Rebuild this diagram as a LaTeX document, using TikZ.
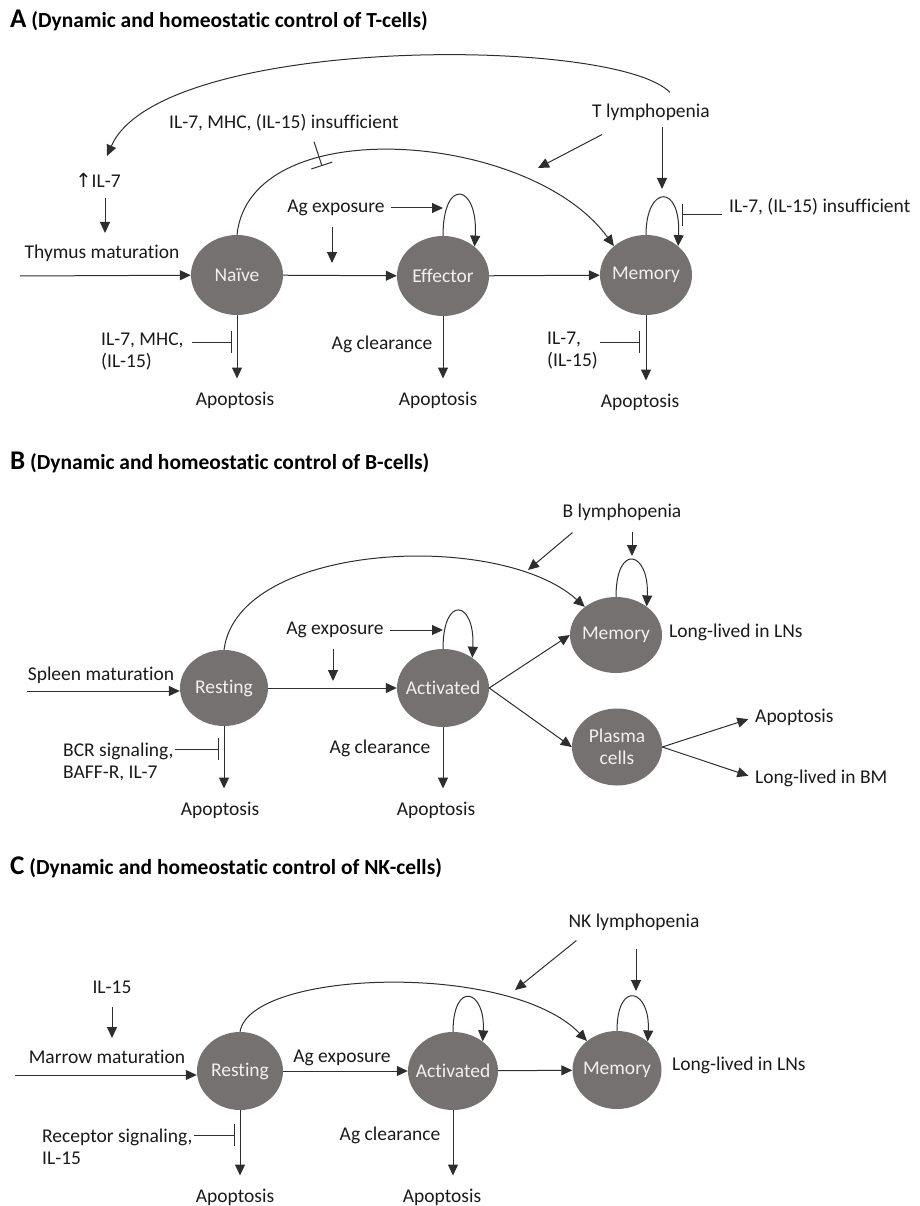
\documentclass[tikz,border=0pt]{standalone}
\usepackage{fontspec}
\setmainfont{Carlito}[Ligatures={NoCommon}]
\newfontfamily\symfont{DejaVu Sans}
\usetikzlibrary{arrows.meta,shapes.geometric}

\definecolor{cellgray}{HTML}{767171}
\definecolor{linegray}{HTML}{2E2E2E}
\definecolor{textgray}{HTML}{1A1A1A}

\begin{document}
\begin{tikzpicture}
  [ x=1pt, y=-1pt
  , cell/.style={ellipse, fill=cellgray, minimum width=92pt, minimum height=80pt, inner xsep=-14pt, inner ysep=0pt, text=white!94!black, font=\fontsize{19.5}{22}\selectfont, align=center}
  , lbl/.style={inner sep=0pt, text=textgray, font=\fontsize{19.5}{22}\selectfont}
  , ttl/.style={anchor=west, inner sep=0pt, text=black, font=\bfseries\fontsize{21.5}{24}\selectfont}
  , act/.style={draw=linegray, line width=1pt, -{Triangle[length=11pt, width=10pt]}}
  , inh/.style={draw=linegray, line width=1pt, -{Bar[width=22pt, line width=1pt]}}]
  \useasboundingbox (0,0) rectangle (919,1206);

  % A: T-cells
  \node (titleA) at (10,20) [ttl] {{\fontsize{27}{30}\selectfont A} (Dynamic and homeostatic control of T-cells)};
  \node (tN) at (237,275) [cell] {Naïve};
  \node (tE) at (443,276) [cell] {Effector};
  \node (tM) at (646,275) [cell] {Memory};
  \node (il7up) at (98,180) [lbl] {{\symfont ↑}IL-7};
  \node (thymus) at (102,253) [lbl] {Thymus maturation};
  \node (agA) at (336,208) [lbl] {Ag exposure};
  \node (insA) at (284,123) [lbl] {IL-7, MHC, (IL-15) insufficient};
  \node (tlym) at (651,112) [lbl] {T lymphopenia};
  \node (insM) at (729,207) [lbl, anchor=west] {IL-7, (IL-15) insufficient};
  \node (sigN) at (101,352) [lbl, anchor=west, align=left] {IL-7, MHC,\\(IL-15)};
  \node (sigM) at (547,351) [lbl, anchor=west, align=left] {IL-7,\\(IL-15)};
  \node (clrA) at (382,344) [lbl] {Ag clearance};
  \node (apoN) at (235,400) [lbl] {Apoptosis};
  \node (apoE) at (438,400) [lbl] {Apoptosis};
  \node (apoM) at (640,402) [lbl] {Apoptosis};
  \coordinate (inA) at (20,276);
  \coordinate (il7tip) at (105,233);
  \coordinate (il7top) at (107,156);
  \coordinate (agtipA) at (332,263);
  \coordinate (barA) at (322,166);
  \coordinate (hitA) at (538,168);
  \coordinate (tlymtip) at (662,189);
  \coordinate (barM) at (682,215);
  \coordinate (barN) at (232,342);
  \coordinate (barMa) at (640,342);
  \draw [act] ([shift={(19,-11)}]tlym.north) .. controls +(-55,-57) and +(53,-121) .. (il7top);
  \draw [act, shorten <=11pt] (il7tip |- il7up.south) -- (il7tip);
  \draw [act] (inA) -- (tN);
  \draw [act] (tN) -- (tE);
  \draw [act] (tE) -- (tM);
  \draw [act] (tN.north) .. controls +(13,-125) and +(-83,-115) .. (tM.138);
  \draw [inh] ([shift={(30,10)}]insA.south) -- (barA);
  \draw [act] ([shift={(10,14)}]tlym.south west) -- (hitA);
  \draw [act, shorten <=6pt] (tlymtip |- tlym.south) -- (tlymtip);
  \draw [act] (tE.north) .. controls +(0,-60) and +(4,-62) .. (tE.43);
  \draw [act] (tM.north) .. controls +(0,-50) and +(3,-63) .. (tM.42);
  \draw [act, shorten <=6pt] (agA.east) -- (agA.east -| tE.north);
  \draw [act, shorten <=11pt] (agtipA |- agA.south) -- (agtipA);
  \draw [inh, shorten <=7pt] (barM -| insM.west) -- (barM);
  \draw [act, shorten >=13pt] (tN.south) -- (tN.south |- apoN.north);
  \draw [act, shorten >=13pt] (tE.south) -- (tE.south |- apoE.north);
  \draw [act, shorten >=13pt] (tM.south) -- (tM.south |- apoM.north);
  \draw [inh, shorten <=8pt] (barN -| sigN.east) -- (barN);
  \draw [inh, shorten <=2pt] (barMa -| sigM.east) -- (barMa);

  % B: B-cells
  \node (titleB) at (10,462) [ttl] {{\fontsize{27}{30}\selectfont B} (Dynamic and homeostatic control of B-cells)};
  \node (bR) at (224,688) [cell, minimum width=88pt, minimum height=76pt] {Resting};
  \node (bA) at (443,688) [cell, minimum height=78pt] {Activated};
  \node (bM) at (616,635) [cell, minimum height=76pt] {Memory};
  \node (bP) at (617,747) [cell, minimum width=90pt, minimum height=77pt] {Plasma\\cells};
  \node (spleen) at (101,675) [lbl] {Spleen maturation};
  \node (agB) at (335,630) [lbl] {Ag exposure};
  \node (blym) at (622,512) [lbl] {B lymphopenia};
  \node (lngB) at (669,632) [lbl, anchor=west] {Long-lived in LNs};
  \node (apoP) at (755,717) [lbl, anchor=west] {Apoptosis};
  \node (lngBM) at (755,778) [lbl, anchor=west] {Long-lived in BM};
  \node (bcr) at (63,762) [lbl, anchor=west, align=left] {BCR signaling,\\BAFF-R, IL-7};
  \node (clrB) at (380,748) [lbl] {Ag clearance};
  \node (apoR) at (220,810) [lbl] {Apoptosis};
  \node (apoA) at (436,810) [lbl] {Apoptosis};
  \coordinate (inB) at (27,691);
  \coordinate (agtipB) at (333,681);
  \coordinate (hitB) at (528,570);
  \coordinate (blymtip) at (632,556);
  \coordinate (barB) at (219,749);
  \draw [act] (inB) -- (inB -| bR.west);
  \draw [act] (bR) -- (bA);
  \draw [act] (bR.north) .. controls +(14,-108) and +(-85,-77) .. (bM.138);
  \draw [act] (bA.north) .. controls +(0,-55) and +(3,-57) .. (bA.46);
  \draw [act] (bM.north) .. controls +(0,-55) and +(3,-55) .. (bM.43);
  \draw [act, shorten <=6pt] (agB.east) -- (agB.east -| bA.north);
  \draw [act, shorten <=11pt] (agtipB |- agB.south) -- (agtipB);
  \draw [act] ([shift={(10,12)}]blym.south west) -- (hitB);
  \draw [act, shorten <=11pt] (blymtip |- blym.south) -- (blymtip);
  \draw [act] (bA.east) -- (bM.west);
  \draw [act] (bA.east) -- (bP.west);
  \draw [act, shorten >=7pt] (bP.east) -- (apoP.west);
  \draw [act, shorten >=7pt] (bP.east) -- (lngBM.west);
  \draw [act, shorten >=13pt] (bR.south) -- (bR.south |- apoR.north);
  \draw [act, shorten >=13pt] (bA.south) -- (bA.south |- apoA.north);
  \draw [inh, shorten <=1pt] (barB -| bcr.east) -- (barB);

  % C: NK-cells
  \node (titleC) at (10,867) [ttl] {{\fontsize{27}{30}\selectfont C} (Dynamic and homeostatic control of NK-cells)};
  \node (cR) at (240,1071) [cell, minimum width=86pt, minimum height=78pt] {Resting};
  \node (cA) at (453,1071) [cell, minimum width=90pt, minimum height=78pt] {Activated};
  \node (cM) at (617,1070) [cell, minimum width=89pt, minimum height=78pt] {Memory};
  \node (il15) at (112,987) [lbl] {IL-15};
  \node (marrow) at (107,1057) [lbl] {Marrow maturation};
  \node (agC) at (342,1058) [lbl] {Ag exposure};
  \node (nklym) at (634,922) [lbl] {NK lymphopenia};
  \node (lngC) at (672,1065) [lbl, anchor=west] {Long-lived in LNs};
  \node (rec) at (42,1147) [lbl, anchor=west, align=left] {Receptor signaling,\\IL-15};
  \node (clrC) at (390,1135) [lbl] {Ag clearance};
  \node (apoCR) at (235,1197) [lbl] {Apoptosis};
  \node (apoCA) at (442,1197) [lbl] {Apoptosis};
  \coordinate (inC) at (15,1075);
  \coordinate (il15tip) at (112,1038);
  \coordinate (hitC) at (515,990);
  \coordinate (nktip) at (636,991);
  \coordinate (barC) at (235,1135);
  \draw [act, shorten <=13pt] (il15tip |- il15.south) -- (il15tip);
  \draw [act] (inC) -- (inC -| cR.west);
  \draw [act] (cR) -- (cA);
  \draw [act] (cA) -- (cM);
  \draw [act] (cR.north) .. controls +(10,-62) and +(-77,-80) .. (cM.136);
  \draw [act] (cA.north) .. controls +(0,-52) and +(3,-52) .. (cA.45);
  \draw [act] (cM.north) .. controls +(0,-52) and +(3,-52) .. (cM.43);
  \draw [act] ([shift={(8,10)}]nklym.south west) -- (hitC);
  \draw [act, shorten <=18pt] (nktip |- nklym.south) -- (nktip);
  \draw [act, shorten >=13pt] (cR.south) -- (cR.south |- apoCR.north);
  \draw [act, shorten >=13pt] (cA.south) -- (cA.south |- apoCA.north);
  \draw [inh, shorten <=1pt] (barC -| rec.east) -- (barC);
\end{tikzpicture}
\end{document}
